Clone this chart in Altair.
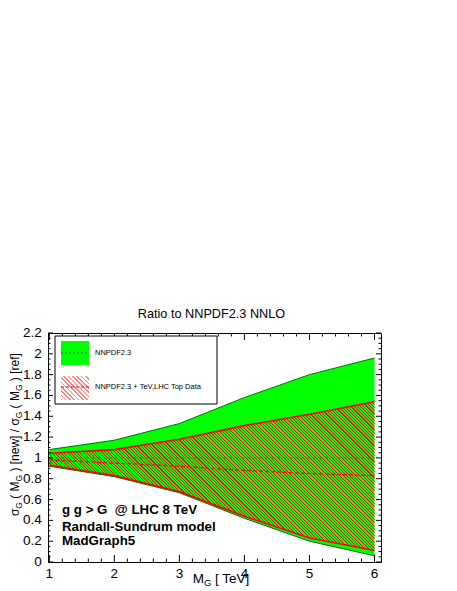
import altair as alt
import pandas as pd
import numpy as np

# ---------------- data ----------------
mass = [1, 2, 3, 4, 5, 6]
nnpdf_up = [1.08, 1.17, 1.33, 1.58, 1.80, 1.96]
nnpdf_lo = [0.92, 0.82, 0.665, 0.42, 0.20, 0.06]
nnpdf_cen = [1.0, 1.0, 1.0, 1.0, 1.0, 1.0]
top_up = [1.045, 1.08, 1.18, 1.31, 1.42, 1.54]
top_lo = [0.93, 0.83, 0.675, 0.44, 0.23, 0.11]
top_cen = [0.98, 0.95, 0.92, 0.88, 0.85, 0.83]

x_ticks = [1, 2, 3, 4, 5, 6]
x_tick_labels = ["1", "2", "3", "4", "5", "6"]
y_ticks = [0, 0.2, 0.4, 0.6, 0.8, 1.0, 1.2, 1.4, 1.6, 1.8, 2.0, 2.2]
y_tick_labels = ["0", "0.2", "0.4", "0.6", "0.8", "1", "1.2", "1.4", "1.6", "1.8", "2", "2.2"]
legend_labels = ["NNPDF2.3", "NNPDF2.3 + TeV,LHC Top Data"]
title_text = "Ratio to NNPDF2.3 NNLO"
notes = ["g g > G\u00a0 @ LHC 8 TeV", "Randall-Sundrum model", "MadGraph5"]
y_title_parts = [("σ", 0), ("G", 1), (" ( M", 0), ("G", 1), (" ) [new] / σ", 0),
                 ("G", 1), (" ( M", 0), ("G", 1), (" ) [ref]", 0)]
x_title_parts = [("M", 0), ("G", 1), (" [ TeV]", 0)]

# ---------------- layout ----------------
X_DOMAIN = [0.98, 6.1]
Y_DOMAIN = [0.0, 2.2]
W, H = 333, 229
FONT = "Liberation Sans"

df = pd.DataFrame({"m": mass, "g_up": nnpdf_up, "g_lo": nnpdf_lo, "g_c": nnpdf_cen,
                   "r_up": top_up, "r_lo": top_lo, "r_c": top_cen})

xs = alt.Scale(domain=X_DOMAIN, nice=False, zero=False)
ys = alt.Scale(domain=Y_DOMAIN, nice=False, zero=False)
XU = (X_DOMAIN[1] - X_DOMAIN[0]) / W   # data units per pixel
YU = (Y_DOMAIN[1] - Y_DOMAIN[0]) / H


def px_x(v):
    return (v - X_DOMAIN[0]) / (X_DOMAIN[1] - X_DOMAIN[0]) * W


def px_y(v):
    return (v - Y_DOMAIN[0]) / (Y_DOMAIN[1] - Y_DOMAIN[0]) * H


def hatch(wpx, hpx, period, frac, color):
    clear = "rgba(255,255,255,0)"
    r = hpx / wpx
    dx = (1 + r) / (1 + r * r)
    n = max(1, int(round((wpx + hpx) / period)))
    stops = []
    for i in range(n):
        a, b, c = i / n, (i + frac) / n, (i + 1) / n
        stops += [alt.GradientStop(color=color, offset=a),
                  alt.GradientStop(color=color, offset=b),
                  alt.GradientStop(color=clear, offset=b),
                  alt.GradientStop(color=clear, offset=c)]
    return alt.LinearGradient(gradient="linear", stops=stops,
                              x1=0, y1=1, x2=dx, y2=1 - dx * r)


x_minor = [round(v, 2) for v in np.arange(1.0, 6.1, 0.2) if abs(v - round(v)) > 1e-6]
y_minor = [round(v, 2) for v in np.arange(0.0, 2.2001, 0.05) if abs(v * 5 - round(v * 5)) > 1e-6]


def X(field="m"):
    return alt.X(field + ":Q", scale=xs, axis=None)


def Y(field):
    return alt.Y(field + ":Q", scale=ys, axis=None)


base = alt.Chart(df)

green_area = base.mark_area(color="#00ff00", opacity=1).encode(
    x=X(), y=Y("g_up"), y2="g_lo:Q")
green_up = base.mark_line(color="#0a6a0a", strokeWidth=1).encode(x=X(), y=Y("g_up"))
green_lo = base.mark_line(color="#0a6a0a", strokeWidth=1).encode(x=X(), y=Y("g_lo"))

rw = px_x(max(mass)) - px_x(min(mass))
rh = px_y(max(top_up)) - px_y(min(top_lo))
red_area = base.mark_area(fill=hatch(rw, rh, 3.2, 0.34, "#ff0000"), opacity=1).encode(
    x=X(), y=Y("r_up"), y2="r_lo:Q")
green_c = base.mark_line(color="#3a7a3a", strokeWidth=1, strokeDash=[3, 3]).encode(
    x=X(), y=Y("g_c"))
red_c = base.mark_line(color="#ff0000", strokeWidth=1.2, strokeDash=[4, 2]).encode(
    x=X(), y=Y("r_c"))
red_up = base.mark_line(color="#ff0000", strokeWidth=1.6).encode(x=X(), y=Y("r_up"))
red_lo = base.mark_line(color="#ff0000", strokeWidth=1.6).encode(x=X(), y=Y("r_lo"))


# ROOT-style inward ticks on all four sides: short segments drawn through the scales
def x_tick_segments(values, edge, length_px, inward):
    rows = []
    for i, v in enumerate(values):
        rows.append({"v": v, "e": edge, "id": i})
        rows.append({"v": v, "e": edge + inward * length_px * YU, "id": i})
    return alt.Chart(pd.DataFrame(rows)).mark_line(color="black", strokeWidth=1).encode(
        x=X("v"), y=Y("e"), detail="id:N")


def y_tick_segments(values, edge, length_px, inward):
    rows = []
    for i, v in enumerate(values):
        rows.append({"v": v, "e": edge, "id": i})
        rows.append({"v": v, "e": edge + inward * length_px * XU, "id": i})
    return alt.Chart(pd.DataFrame(rows)).mark_line(color="black", strokeWidth=1).encode(
        y=Y("v"), x=X("e"), detail="id:N", order="e:Q")


tick_layers = [
    x_tick_segments(x_ticks, Y_DOMAIN[0], 7, 1), x_tick_segments(x_minor, Y_DOMAIN[0], 3.5, 1),
    x_tick_segments(x_ticks, Y_DOMAIN[1], 7, -1), x_tick_segments(x_minor, Y_DOMAIN[1], 3.5, -1),
    y_tick_segments(y_ticks, X_DOMAIN[0], 5, 1), y_tick_segments(y_minor, X_DOMAIN[0], 2.5, 1),
    y_tick_segments(y_ticks, X_DOMAIN[1], 5, -1), y_tick_segments(y_minor, X_DOMAIN[1], 2.5, -1),
]

# tick labels, placed through the scales
x_label_layer = alt.Chart(pd.DataFrame({"v": x_ticks, "lab": x_tick_labels})).mark_text(
    font=FONT, fontSize=13.5, color="black", align="center", baseline="alphabetic").encode(
    x=X("v"), y=alt.value(H + 15.7), text="lab:N")
y_label_layer = alt.Chart(pd.DataFrame({"v": y_ticks, "lab": y_tick_labels})).mark_text(
    font=FONT, fontSize=13.5, color="black", align="right", baseline="middle").encode(
    y=Y("v"), x=alt.value(-6.3), text="lab:N")


def one(text=""):
    return alt.Chart(pd.DataFrame({"t": [text]}))


def txt(text, x, y, size, **kw):
    return one(text).mark_text(font=FONT, fontSize=size, color="black",
                               align=kw.pop("align", "left"),
                               baseline=kw.pop("baseline", "alphabetic"), **kw).encode(
        x=alt.value(x), y=alt.value(y), text="t:N")


# legend (hand-built, ROOT style)
legend = [
    one().mark_rect(fill="white", stroke="black", strokeWidth=1).encode(
        x=alt.value(7), x2=alt.value(169), y=alt.value(3), y2=alt.value(71)),
    one().mark_rect(fill="#00ff00").encode(
        x=alt.value(13), x2=alt.value(41), y=alt.value(8), y2=alt.value(32)),
    one().mark_rule(color="#2f6f2f", strokeWidth=1, strokeDash=[2, 2]).encode(
        x=alt.value(13), x2=alt.value(41), y=alt.value(20)),
    one().mark_rect(fill=hatch(28, 24, 4.2, 0.35, "#ff8080")).encode(
        x=alt.value(13), x2=alt.value(41), y=alt.value(43), y2=alt.value(67)),
    one().mark_rule(color="#ff0000", strokeWidth=1.2, strokeDash=[3, 2]).encode(
        x=alt.value(13), x2=alt.value(41), y=alt.value(54)),
    txt(legend_labels[0], 47, 20, 7.5, baseline="middle"),
    txt(legend_labels[1], 47, 54, 7.5, baseline="middle"),
]

notes_layers = [txt(s, 14, yy, 13.3, fontWeight="bold")
                for s, yy in zip(notes, [181, 197.5, 212])]

title_layer = txt(title_text, 163.5, -15, 12.7, align="center")

# axis titles with subscripts, built from font metrics (Liberation Sans)
CW = {' ': 0.278, '(': 0.333, ')': 0.333, '[': 0.278, ']': 0.278, '/': 0.278,
      'M': 0.833, 'G': 0.778, 'n': 0.556, 'e': 0.556, 'w': 0.722, 'r': 0.333,
      'f': 0.278, 'σ': 0.600, 'T': 0.611, 'V': 0.667}


def tw(s, size):
    return sum(CW.get(c, 0.556) for c in s) * size


axis_title_layers = []
# y title (rotated, reading bottom to top)
pos = 0.0
YM, YS = 12.0, 8.5
for s, sub in y_title_parts:
    size = YS if sub else YM
    lead = len(s) - len(s.lstrip(" "))
    start = pos + tw(" " * lead, size)
    axis_title_layers.append(
        txt(s.strip(), -26 if sub else -29, 183 - start, size, angle=270))
    pos += tw(s, size)
# x title
pos = 0.0
XM, XS = 13.5, 9.5
for s, sub in x_title_parts:
    size = XS if sub else XM
    lead = len(s) - len(s.lstrip(" "))
    start = pos + tw(" " * lead, size)
    axis_title_layers.append(
        txt(s.strip(), 144.7 + start, 252.7 if sub else 249.7, size))
    pos += tw(s, size)

chart = alt.layer(
    green_area, green_up, green_lo, red_area, green_c, red_c, red_up, red_lo,
    *tick_layers, x_label_layer, y_label_layer,
    *legend, *notes_layers, title_layer, *axis_title_layers
).properties(
    width=W, height=H,
    autosize=alt.AutoSizeParams(type="none"),
    padding={"left": 40, "top": 325, "right": 60, "bottom": 26},
    background="white",
).configure_view(stroke="black", strokeWidth=1)

chart.save("out.html", embed_options={"renderer": "svg", "actions": False})
